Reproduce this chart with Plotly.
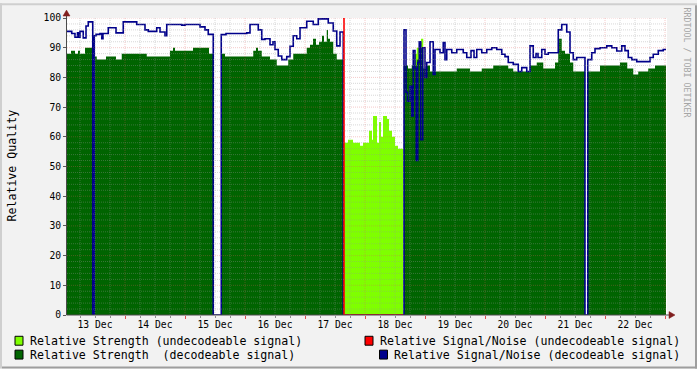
import pandas as pd
import plotly.graph_objects as go

BASE = pd.Timestamp("2023-12-13 00:00:00")

# ---------------- data (hours after 13 Dec 00:00, value held until next point) ----------------
dec_strength_h = [0.8, 2.4, 4.0, 5.2, 6.0, 8.0, 10.9, 11.9, 12.7, 16.4, 20.4, 22.7, 32.7, 42.0, 43.2, 44.0,
                  51.2, 57.6, 59.3, 62.7, 64.0, 75.3, 76.4, 77.2, 78.7, 82.0, 84.7, 89.3, 91.3, 96.7, 98.0,
                  99.2, 100.4, 101.6, 102.8, 103.6, 104.7, 105.2, 106.0, 107.3, 108.7, 111.3, 135.6, 137.2,
                  138.7, 140.7, 142.0, 143.3, 144.7, 146.0, 156.7, 162.0, 166.7, 171.3, 177.3, 179.3, 186.0,
                  188.7, 191.3, 196.0, 197.3, 198.7, 200.0, 202.0, 203.3, 208.0, 209.1, 214.0, 222.0, 224.9,
                  227.3, 229.3, 233.3, 236.0, 240.4]
dec_strength_v = [88, 89, 88, 89, 88, 90, 0, 87, 86, 87, 86, 88, 87, 89, 90, 89,
                  90, 88, 0, 88, 87, 89, 90, 89, 87, 86, 84, 86, 88, 90, 91,
                  93, 91, 92, 94, 92, 96, 93, 92, 88, 86, 0, 84, 83,
                  84, 86, 90, 83, 84, 82, 83, 82, 83, 84, 83, 82, 84,
                  85, 83, 85, 93, 89, 88, 85, 82, 0, 82, 84, 85, 83,
                  81, 82, 83, 84, 84]

undec_strength_h = [111.6, 113.2, 115.2, 118.0, 119.2, 121.6, 122.8, 123.2, 124.8, 125.6, 126.4, 127.2,
                    128.8, 129.6, 130.8, 132.0, 133.2, 135.3, 139.9, 140.7, 141.7, 142.4, 143.3, 240.4]
undec_strength_v = [58, 59, 58, 57, 58, 62, 59, 67, 58, 65, 60, 67,
                    66, 62, 60, 57, 56, 0, 88, 90, 84, 93, 0, 0]

undec_snr_h = [111.2, 111.6, 135.3]
undec_snr_v = [100, 0, 0]

dec_snr_h = [0.8, 2.7, 4.0, 5.0, 5.6, 6.0, 7.3, 8.4, 9.3, 11.1, 11.7, 12.4, 14.0, 14.7, 15.2, 17.3, 20.4,
             23.3, 28.7, 32.0, 33.3, 36.7, 38.0, 40.0, 40.7, 46.7, 48.0, 54.0, 56.0, 57.3, 59.3, 62.5,
             64.4, 72.7, 74.0, 77.3, 78.7, 80.0, 82.0, 83.2, 84.0, 85.3, 86.7, 88.7, 90.0, 91.3, 92.7,
             94.0, 96.7, 99.3, 101.3, 105.3, 107.3, 108.7, 110.0, 111.3, 135.6, 136.4, 137.0, 138.0,
             138.7, 139.3, 140.0, 140.5, 141.1, 141.7, 142.3, 143.1, 144.0, 144.7, 146.0, 147.3, 148.0,
             150.0, 151.3, 152.0, 152.7, 154.7, 156.7, 159.3, 160.7, 162.4, 163.6, 164.7, 166.7, 168.7,
             170.7, 172.7, 174.7, 176.0, 177.3, 179.3, 181.3, 182.7, 184.7, 186.0, 187.3, 188.4, 189.2,
             190.7, 192.0, 193.3, 197.3, 198.7, 200.7, 202.0, 203.3, 204.7, 208.0, 209.1, 210.7, 212.0,
             214.0, 216.7, 218.7, 220.7, 222.7, 224.0, 225.3, 226.7, 228.7, 234.0, 235.3, 237.3, 239.3,
             240.4]
dec_snr_v = [95.5, 94.8, 93.5, 95, 93.5, 95.5, 93.3, 97.3, 98.7, 0, 94, 94.5, 94.8, 93, 94.8, 96.7, 95,
             98.7, 97.8, 96, 95.5, 96.7, 95.3, 94, 97.8, 97.6, 97.8, 97, 96, 94.5, 0, 94.4,
             94.8, 95, 97.8, 96, 92.8, 93, 91, 92, 89.4, 87.2, 86, 87, 90.5, 94, 93,
             96.7, 98.9, 97.8, 99.7, 98.3, 95.6, 90.6, 95.3, 0, 96, 75, 72, 77,
             67, 89, 83, 52, 85, 92, 59, 90, 80, 85, 92, 81, 89.4,
             88.3, 91.7, 86, 89.4, 88.3, 89.4, 88.3, 86.7, 89, 86.7, 89.4, 88.3, 89.4,
             90, 89.4, 87.8, 87, 85, 84.4, 82, 83.3, 82, 90.6, 86.7, 88, 86.7,
             89.4, 87.8, 88.3, 96, 97.8, 95.3, 88.3, 86, 86.7, 0, 86, 88.3, 89.7,
             90, 90.6, 90, 88.9, 90.6, 89, 86.7, 86, 85.3, 86.7, 87.8, 89, 89.4,
             89.4]

day_tick_start = "2023-12-13"
y_ticks = list(range(0, 101, 10))

legend_items = [
    ("Relative Strength (undecodeable signal)", "#7FFF00"),
    ("Relative Strength\u00a0\u00a0(decodeable signal)", "#006400"),
    ("Relative Signal/Noise (undecodeable signal)", "#FF0000"),
    ("Relative Signal/Noise (decodeable signal)", "#00008B"),
]


def t(hours):
    return [BASE + pd.Timedelta(hours=h) for h in hours]


# ---------------- geometry helpers (pixels -> paper) ----------------
L, R, T, B = 67, 667, 15, 315
W, H = 697, 369


def px(x):
    return (x - L) / (R - L)


def py(y):
    return (B - y) / (B - T)


FONT = "DejaVu Sans Mono"

fig = go.Figure()
fig.add_trace(go.Scatter(x=t(undec_strength_h), y=undec_strength_v, mode="lines", line_shape="hv",
                         line=dict(width=0, color="#7FFF00"), fill="tozeroy", fillcolor="#7FFF00",
                         showlegend=False, hoverinfo="skip"))
fig.add_trace(go.Scatter(x=t(dec_strength_h), y=dec_strength_v, mode="lines", line_shape="hv",
                         line=dict(width=0, color="#006400"), fill="tozeroy", fillcolor="#006400",
                         showlegend=False, hoverinfo="skip"))
fig.add_trace(go.Scatter(x=t(dec_snr_h), y=dec_snr_v, mode="lines", line_shape="hv",
                         line=dict(width=1.6, color="#00008B"), showlegend=False, hoverinfo="skip"))
fig.add_trace(go.Scatter(x=t(undec_snr_h), y=undec_snr_v, mode="lines", line_shape="hv",
                         line=dict(width=1.6, color="#FF0000"), showlegend=False, hoverinfo="skip"))

shapes = []
GRID = "rgba(150,150,150,0.38)"
MGRID = "rgba(225,90,90,0.32)"
# vertical grid (6 h minor, 24 h major)
for h in range(6, 241, 6):
    xv = BASE + pd.Timedelta(hours=h)
    shapes.append(dict(type="line", xref="x", yref="paper", x0=xv, x1=xv, y0=0, y1=1, layer="above",
                       line=dict(color=MGRID if h % 24 == 0 else GRID, width=1, dash="1px,1px")))
# horizontal grid
for v in range(2, 101, 2):
    shapes.append(dict(type="line", xref="paper", yref="y", x0=0, x1=1, y0=v, y1=v, layer="above",
                       line=dict(color=MGRID if v % 10 == 0 else GRID, width=1, dash="1px,1px")))
# axes lines and arrows
AX = "#4a4a4a"
shapes.append(dict(type="line", xref="paper", yref="paper", x0=px(66.5), x1=px(66.5), y0=py(315), y1=py(12),
                   line=dict(color=AX, width=1), layer="above"))
shapes.append(dict(type="line", xref="paper", yref="paper", x0=px(66.5), x1=px(671), y0=py(315), y1=py(315),
                   line=dict(color=AX, width=1), layer="above"))
ARW = "#801F1F"
shapes.append(dict(type="path", xref="paper", yref="paper", layer="above",
                   path=f"M {px(66.5)},{py(7)} L {px(63)},{py(13)} L {px(70)},{py(13)} Z",
                   fillcolor=ARW, line=dict(color=ARW, width=0.5)))
shapes.append(dict(type="path", xref="paper", yref="paper", layer="above",
                   path=f"M {px(675)},{py(315)} L {px(669)},{py(311.5)} L {px(669)},{py(318.5)} Z",
                   fillcolor=ARW, line=dict(color=ARW, width=0.5)))
# 3D frame
shapes.append(dict(type="rect", xref="paper", yref="paper", x0=px(0), x1=px(W), y0=py(0), y1=py(2),
                   fillcolor="#CFCFCF", line=dict(width=0), layer="above"))
shapes.append(dict(type="rect", xref="paper", yref="paper", x0=px(0), x1=px(2), y0=py(0), y1=py(H),
                   fillcolor="#CFCFCF", line=dict(width=0), layer="above"))
shapes.append(dict(type="rect", xref="paper", yref="paper", x0=px(2), x1=px(W), y0=py(H - 2), y1=py(H),
                   fillcolor="#9E9E9E", line=dict(width=0), layer="above"))
shapes.append(dict(type="rect", xref="paper", yref="paper", x0=px(W - 2), x1=px(W), y0=py(2), y1=py(H),
                   fillcolor="#9E9E9E", line=dict(width=0), layer="above"))

annotations = []
# legend
legend_pos = [(15, 28, 341), (15, 28, 355), (365, 378, 341), (379.5, 392, 355)]
for (label, color), (bx, tx, ty) in zip(legend_items, legend_pos):
    shapes.append(dict(type="rect", xref="paper", yref="paper", x0=px(bx), x1=px(bx + 8),
                       y0=py(ty - 4.5), y1=py(ty + 4.5), fillcolor=color,
                       line=dict(color="black", width=1), layer="above"))
    annotations.append(dict(text=label, xref="paper", yref="paper", x=px(tx), y=py(ty),
                            xanchor="left", yanchor="middle", showarrow=False,
                            font=dict(family=FONT, size=11.6, color="black")))
annotations.append(dict(text="Relative Quality", xref="paper", yref="paper", x=px(12), y=py(164),
                        xanchor="center", yanchor="middle", textangle=-90, showarrow=False,
                        font=dict(family=FONT, size=11.6, color="black")))
annotations.append(dict(text="RRDTOOL / TOBI OETIKER", xref="paper", yref="paper", x=px(687), y=py(60),
                        xanchor="center", yanchor="middle", textangle=90, showarrow=False,
                        font=dict(family=FONT, size=8.3, color="#A5A5A5")))

fig.update_layout(
    width=W, height=H, autosize=False,
    margin=dict(l=L, r=W - R, t=T, b=H - B, pad=0),
    paper_bgcolor="#F2F2F2", plot_bgcolor="white",
    shapes=shapes, annotations=annotations, showlegend=False,
    xaxis=dict(type="date",
               range=[BASE + pd.Timedelta(hours=0.8), BASE + pd.Timedelta(hours=240.8)],
               tick0=day_tick_start, dtick=86400000, tickformat="%d %b", ticklabelmode="period",
               ticks="outside", ticklen=3, tickcolor="#DE4F4F", tickwidth=1, ticklabelstandoff=-3,
               minor=dict(dtick=6 * 3600000, ticks="outside", ticklen=2, tickcolor="#8F8F8F", showgrid=False),
               showgrid=False, zeroline=False, showline=False, fixedrange=True,
               tickfont=dict(family=FONT, size=9.7, color="black")),
    yaxis=dict(range=[0, 100], tickvals=y_ticks, ticks="outside", ticklen=3, tickcolor="#5a5a5a",
               showgrid=False, zeroline=False, showline=False, fixedrange=True,
               tickfont=dict(family=FONT, size=9.7, color="black")),
)

fig.write_html("out.html")
